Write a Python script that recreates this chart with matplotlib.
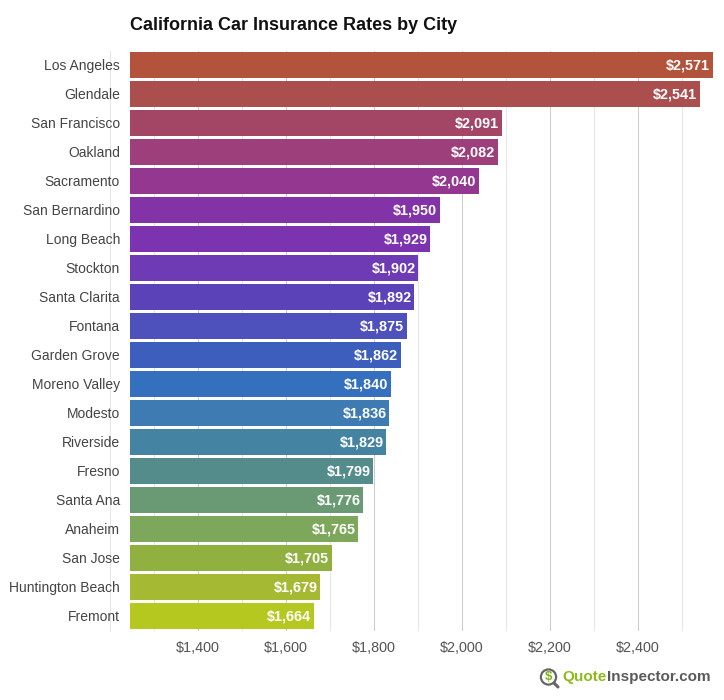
import matplotlib
matplotlib.use("Agg")
import matplotlib.pyplot as plt
from matplotlib.patches import Circle
from matplotlib.ticker import MultipleLocator, FuncFormatter
from matplotlib.transforms import ScaledTranslation

plt.rcParams['font.family'] = ['Liberation Sans', 'DejaVu Sans']

cities = ["Los Angeles", "Glendale", "San Francisco", "Oakland", "Sacramento", "San Bernardino",
          "Long Beach", "Stockton", "Santa Clarita", "Fontana", "Garden Grove", "Moreno Valley",
          "Modesto", "Riverside", "Fresno", "Santa Ana", "Anaheim", "San Jose",
          "Huntington Beach", "Fremont"]
rates = [2571, 2541, 2091, 2082, 2040, 1950, 1929, 1902, 1892, 1875, 1862, 1840,
         1836, 1829, 1799, 1776, 1765, 1705, 1679, 1664]
colors = ["#B3533B", "#AA4E4E", "#A34564", "#9C3F7A", "#933790", "#8233A8", "#7B33B0", "#6E3BB5",
          "#5C42B8", "#4E50BC", "#3E5EBE", "#3570BE", "#3D7BB2", "#4583A2", "#548C8C", "#6A9A74",
          "#7DA85C", "#90B040", "#A5B933", "#B5C820"]
title = "California Car Insurance Rates by City"

W, H = 724, 700
fig = plt.figure(figsize=(W / 100, H / 100), dpi=100, facecolor="white")

L, R, T, B = 130, 724, 50.5, 630.5
ax = fig.add_axes([L / W, 1 - B / H, (R - L) / W, (B - T) / H])
PX = 0.44
xmin = 1400 - (197.5 - L) / PX
ax.set_xlim(xmin, xmin + (R - L) / PX)
ax.set_ylim(len(cities) - 0.5, -0.5)

ys = list(range(len(cities)))
ax.barh(ys, [r - xmin for r in rates], left=xmin, height=25.5 / 29, color=colors, zorder=3,
        edgecolor="none")
for y, r, c in zip(ys, rates, colors):
    ax.barh(y, r - xmin, left=xmin, height=26.5 / 29, color=c, alpha=0.45, zorder=2, edgecolor="none")
    ax.annotate(f"${r:,}", (r, y), xytext=(-1.8, -0.3), textcoords="offset points", ha="right",
                va="center", color="white", fontsize=10.4, fontweight="bold", zorder=5)

ax.xaxis.set_major_locator(MultipleLocator(200))
ax.xaxis.set_minor_locator(MultipleLocator(100))
ax.xaxis.set_major_formatter(FuncFormatter(lambda v, p: f"${int(v):,}"))
ax.grid(True, axis="x", which="major", color="#cccccc", lw=0.75, zorder=1)
ax.grid(True, axis="x", which="minor", color="#e6e6e6", lw=0.75, zorder=1)
ax.set_axisbelow(True)
ax.plot([1200, 1200], [-0.5, len(cities) - 0.5], color="#e6e6e6", lw=0.75, clip_on=False, zorder=0)
for s in ax.spines.values():
    s.set_visible(False)
ax.tick_params(axis="x", which="both", length=0, pad=7.8, labelsize=10.4, labelcolor="#555555")
ax.tick_params(axis="y", length=0, pad=7.2, labelsize=10, labelcolor="#444444")
ax.set_yticks(ys)
ax.set_yticklabels(cities)
up = ScaledTranslation(0, 0.6 / 100, fig.dpi_scale_trans)
for lab in ax.get_yticklabels():
    lab.set_transform(lab.get_transform() + up)

# title and logo in pixel space
ov = fig.add_axes([0, 0, 1, 1], facecolor="none")
ov.set_xlim(0, W)
ov.set_ylim(H, 0)
ov.axis("off")
ov.text(130, 25, title, fontsize=12.95, fontweight="bold", color="#111111", ha="left", va="center")
ov.add_patch(Circle((548.5, 677), 7.6, fill=False, ec="#666666", lw=1.6))
ov.plot([554, 558], [683, 687], color="#666666", lw=2.2, solid_capstyle="round")
ov.text(548.5, 677, "$", fontsize=9.5, fontweight="bold", color="#7CB518", ha="center", va="center")
t1 = ov.text(562, 677.5, "Quote", fontsize=11, fontweight="bold", color="#8DBB1E", ha="left", va="center")
fig.canvas.draw()
bb = t1.get_window_extent()
ov.text(bb.x1 + 0.3, 677.5, "Inspector.com", fontsize=11, fontweight="bold", color="#5a5a5a", ha="left", va="center")

fig.savefig("out.png", dpi=100, facecolor="white")
